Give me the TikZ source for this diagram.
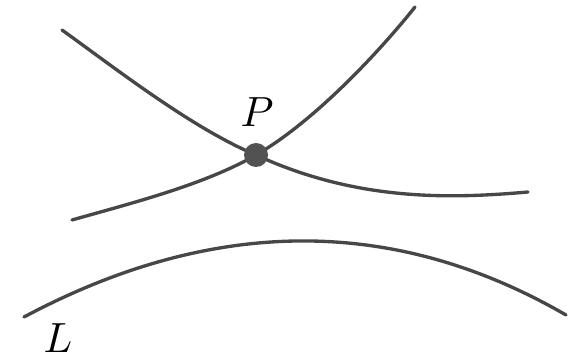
\documentclass[tikz,border=0pt]{standalone}
\begin{document}
\begin{tikzpicture}[line join=round, line cap=round, thick]
	\tikzset{every node/.style={scale=1.2}, curve/.style={draw=black!72, line width=0.95pt}, dot/.style={circle, fill=black!68, inner sep=0pt, minimum size=0.2cm}}
	\useasboundingbox (0,0) rectangle (5.72,3.58);
	\coordinate (P) at (2.56,2.03);
	\coordinate (A1) at (0.62,3.28);
	\coordinate (B1) at (5.28,1.66);
	\coordinate (A2) at (0.72,1.38);
	\coordinate (B2) at (4.15,3.51);
	\coordinate (A3) at (0.24,0.41);
	\coordinate (B3) at (5.66,0.43);
	\draw[curve] (A1) .. controls (1.19,2.87) and (1.92,2.30) .. (P) .. controls (3.56,1.57) and (4.48,1.59) .. (B1);
	\draw[curve] (A2) .. controls (1.30,1.545) and (2.04,1.73) .. (P) .. controls (3.17,2.38) and (3.84,3.12) .. (B2);
	\draw[curve] (A3) .. controls (2.06,1.38) and (3.88,1.46) .. (B3);
	\node[dot] (Pdot) at (P) {};
	\node (Plabel) at (2.57,2.46) {$P$};
	\node (Llabel) at (0.58,0.20) {$L$};
\end{tikzpicture}
\end{document}
